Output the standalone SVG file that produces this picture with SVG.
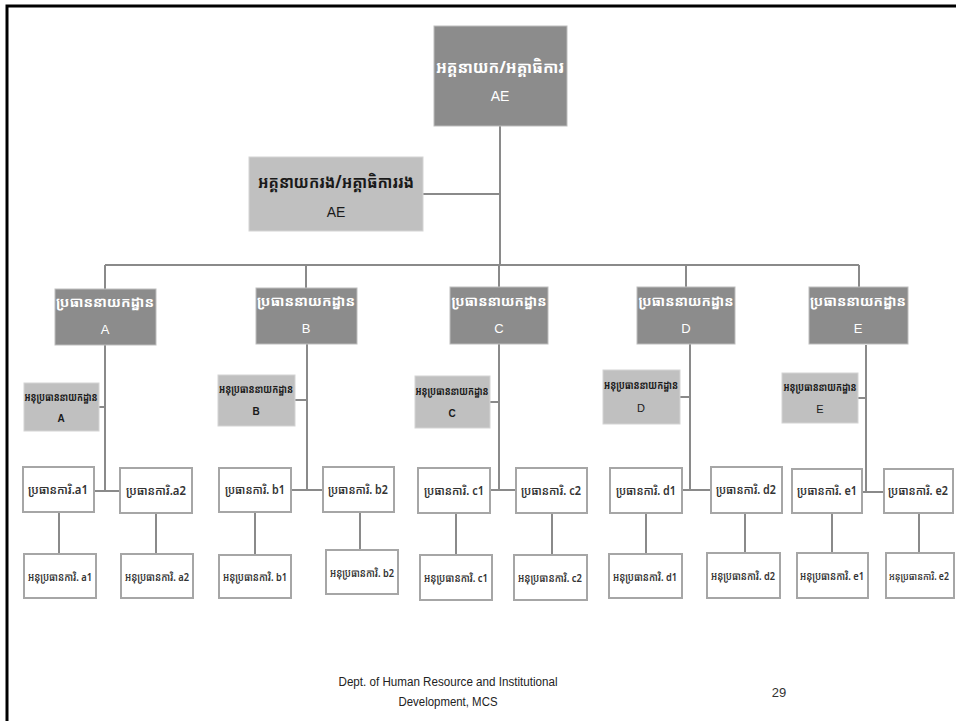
<svg xmlns="http://www.w3.org/2000/svg" width="956" height="721" viewBox="0 0 956 721">
<style>
.k{font-family:"Noto Sans Khmer","Khmer OS","Noto Sans",sans-serif;text-anchor:middle}
.l{font-family:"Liberation Sans Narrow","Liberation Sans",sans-serif;text-anchor:middle}
.top{fill:#8c8c8c;stroke:#bdbdbd;stroke-width:1}
.dep{fill:#c0c0c0;stroke:#d4d4d4;stroke-width:1}
.off{fill:#ffffff;stroke:#a6a6a6;stroke-width:2}
.wt{fill:#ffffff}
.wb{fill:#ffffff;font-weight:bold}
.bt{fill:#1a1a1a;font-weight:bold}
.ot{fill:#333333;font-weight:600}
#connectors line{stroke:#8a8a8a;stroke-width:2}
</style>
<rect width="956" height="721" fill="#ffffff"/>
<path d="M7 721 V6 H956" fill="none" stroke="#000000" stroke-width="3"/>

<g id="connectors">
<line x1="500" y1="126" x2="500" y2="265"/>
<line x1="423" y1="194" x2="500" y2="194"/>
<line x1="105" y1="265" x2="859" y2="265"/>
<line x1="105" y1="265" x2="105" y2="289"/>
<line x1="306" y1="265" x2="306" y2="288"/>
<line x1="499" y1="265" x2="499" y2="287"/>
<line x1="686" y1="265" x2="686" y2="287"/>
<line x1="859" y1="265" x2="859" y2="289"/>
<line x1="105" y1="345" x2="105" y2="491"/>
<line x1="99" y1="407" x2="105" y2="407"/>
<line x1="94" y1="491" x2="120" y2="491"/>
<line x1="59" y1="512" x2="59" y2="554"/>
<line x1="156" y1="513" x2="156" y2="554"/>
<line x1="307" y1="344" x2="307" y2="490"/>
<line x1="295" y1="400" x2="307" y2="400"/>
<line x1="291" y1="490" x2="323" y2="490"/>
<line x1="255" y1="512" x2="255" y2="555"/>
<line x1="360" y1="512" x2="360" y2="550"/>
<line x1="499" y1="344" x2="499" y2="490"/>
<line x1="490" y1="402" x2="499" y2="402"/>
<line x1="490" y1="490" x2="516" y2="490"/>
<line x1="456" y1="513" x2="456" y2="555"/>
<line x1="552" y1="513" x2="552" y2="555"/>
<line x1="690" y1="344" x2="690" y2="490"/>
<line x1="680" y1="397" x2="690" y2="397"/>
<line x1="682" y1="490" x2="711" y2="490"/>
<line x1="646" y1="513" x2="646" y2="554"/>
<line x1="745" y1="513" x2="745" y2="553"/>
<line x1="866" y1="345" x2="866" y2="492"/>
<line x1="858" y1="398" x2="866" y2="398"/>
<line x1="862" y1="492" x2="884" y2="492"/>
<line x1="832" y1="513" x2="832" y2="553"/>
<line x1="919" y1="513" x2="919" y2="553"/>
</g>

<g id="n-top">
<rect class="top" x="434" y="26" width="133" height="100"/>
<text class="k wb" x="500" y="73" font-size="16" textLength="128" lengthAdjust="spacingAndGlyphs">អគ្គនាយក/អគ្គាធិការ</text>
<text class="l wt" x="500" y="101" font-size="14">AE</text>
</g>
<g id="n-deputy">
<rect class="dep" x="249" y="157" width="174" height="74"/>
<text class="k bt" x="336" y="188" font-size="17" textLength="156" lengthAdjust="spacingAndGlyphs">អគ្គនាយករង/អគ្គាធិការរង</text>
<text class="l" x="336" y="217" font-size="14" fill="#1a1a1a">AE</text>
</g>

<g id="n-dA"><rect class="top" x="55" y="289" width="101" height="56"/>
<text class="k wb" x="105" y="307" font-size="14" textLength="98" lengthAdjust="spacingAndGlyphs">ប្រធាននាយកដ្ឋាន</text>
<text class="l wt" x="105" y="334" font-size="13">A</text></g>
<g id="n-dB"><rect class="top" x="256" y="288" width="101" height="56"/>
<text class="k wb" x="306" y="306" font-size="14" textLength="98" lengthAdjust="spacingAndGlyphs">ប្រធាននាយកដ្ឋាន</text>
<text class="l wt" x="306" y="333" font-size="13">B</text></g>
<g id="n-dC"><rect class="top" x="450" y="287" width="98" height="57"/>
<text class="k wb" x="499" y="306" font-size="14" textLength="95" lengthAdjust="spacingAndGlyphs">ប្រធាននាយកដ្ឋាន</text>
<text class="l wt" x="499" y="333" font-size="13">C</text></g>
<g id="n-dD"><rect class="top" x="637" y="287" width="98" height="57"/>
<text class="k wb" x="686" y="306" font-size="14" textLength="95" lengthAdjust="spacingAndGlyphs">ប្រធាននាយកដ្ឋាន</text>
<text class="l wt" x="686" y="333" font-size="13">D</text></g>
<g id="n-dE"><rect class="top" x="809" y="287" width="99" height="57"/>
<text class="k wb" x="858" y="306" font-size="14" textLength="96" lengthAdjust="spacingAndGlyphs">ប្រធាននាយកដ្ឋាន</text>
<text class="l wt" x="858" y="333" font-size="13">E</text></g>

<g id="n-vA"><rect class="dep" x="24" y="383" width="75" height="48"/>
<text class="k bt" x="61" y="401" font-size="11" textLength="73" lengthAdjust="spacingAndGlyphs">អនុប្រធាននាយកដ្ឋាន</text>
<text class="l bt" x="61" y="422" font-size="10">A</text></g>
<g id="n-vB"><rect class="dep" x="218" y="375" width="77" height="51"/>
<text class="k bt" x="256" y="393" font-size="11" textLength="74" lengthAdjust="spacingAndGlyphs">អនុប្រធាននាយកដ្ឋាន</text>
<text class="l bt" x="256" y="415" font-size="10">B</text></g>
<g id="n-vC"><rect class="dep" x="415" y="376" width="75" height="52"/>
<text class="k bt" x="452" y="395" font-size="11" textLength="73" lengthAdjust="spacingAndGlyphs">អនុប្រធាននាយកដ្ឋាន</text>
<text class="l bt" x="452" y="417" font-size="10">C</text></g>
<g id="n-vD"><rect class="dep" x="603" y="370" width="77" height="54"/>
<text class="k bt" x="641" y="389" font-size="11" textLength="74" lengthAdjust="spacingAndGlyphs">អនុប្រធាននាយកដ្ឋាន</text>
<text class="l" x="641" y="412" font-size="11" fill="#1a1a1a">D</text></g>
<g id="n-vE"><rect class="dep" x="782" y="373" width="76" height="50"/>
<text class="k bt" x="820" y="391" font-size="11" textLength="73" lengthAdjust="spacingAndGlyphs">អនុប្រធាននាយកដ្ឋាន</text>
<text class="l" x="820" y="413" font-size="11" fill="#1a1a1a">E</text></g>

<g id="n-a1"><rect class="off" x="23" y="467" width="71" height="45"/><text class="k ot" x="58" y="494" font-size="12" textLength="60" lengthAdjust="spacingAndGlyphs">ប្រធានការិ.a1</text></g>
<g id="n-a2"><rect class="off" x="120" y="468" width="72" height="45"/><text class="k ot" x="156" y="495" font-size="12" textLength="60" lengthAdjust="spacingAndGlyphs">ប្រធានការិ.a2</text></g>
<g id="n-sa1"><rect class="off" x="24" y="554" width="72" height="44"/><text class="k ot" x="60" y="581" font-size="11" textLength="64" lengthAdjust="spacingAndGlyphs">អនុប្រធានការិ. a1</text></g>
<g id="n-sa2"><rect class="off" x="121" y="554" width="72" height="44"/><text class="k ot" x="157" y="581" font-size="11" textLength="64" lengthAdjust="spacingAndGlyphs">អនុប្រធានការិ. a2</text></g>

<g id="n-b1"><rect class="off" x="219" y="468" width="72" height="44"/><text class="k ot" x="255" y="494" font-size="12" textLength="60" lengthAdjust="spacingAndGlyphs">ប្រធានការិ. b1</text></g>
<g id="n-b2"><rect class="off" x="323" y="467" width="71" height="45"/><text class="k ot" x="358" y="494" font-size="12" textLength="60" lengthAdjust="spacingAndGlyphs">ប្រធានការិ. b2</text></g>
<g id="n-sb1"><rect class="off" x="219" y="555" width="72" height="43"/><text class="k ot" x="255" y="581" font-size="11" textLength="64" lengthAdjust="spacingAndGlyphs">អនុប្រធានការិ. b1</text></g>
<g id="n-sb2"><rect class="off" x="326" y="550" width="72" height="44"/><text class="k ot" x="362" y="577" font-size="11" textLength="64" lengthAdjust="spacingAndGlyphs">អនុប្រធានការិ. b2</text></g>

<g id="n-c1"><rect class="off" x="418" y="468" width="72" height="45"/><text class="k ot" x="454" y="495" font-size="12" textLength="60" lengthAdjust="spacingAndGlyphs">ប្រធានការិ. c1</text></g>
<g id="n-c2"><rect class="off" x="516" y="468" width="71" height="45"/><text class="k ot" x="551" y="495" font-size="12" textLength="60" lengthAdjust="spacingAndGlyphs">ប្រធានការិ. c2</text></g>
<g id="n-sc1"><rect class="off" x="420" y="555" width="72" height="45"/><text class="k ot" x="456" y="582" font-size="11" textLength="64" lengthAdjust="spacingAndGlyphs">អនុប្រធានការិ. c1</text></g>
<g id="n-sc2"><rect class="off" x="514" y="555" width="73" height="45"/><text class="k ot" x="550" y="582" font-size="11" textLength="64" lengthAdjust="spacingAndGlyphs">អនុប្រធានការិ. c2</text></g>

<g id="n-d1"><rect class="off" x="610" y="468" width="72" height="45"/><text class="k ot" x="646" y="495" font-size="12" textLength="60" lengthAdjust="spacingAndGlyphs">ប្រធានការិ. d1</text></g>
<g id="n-d2"><rect class="off" x="711" y="467" width="71" height="46"/><text class="k ot" x="746" y="494" font-size="12" textLength="60" lengthAdjust="spacingAndGlyphs">ប្រធានការិ. d2</text></g>
<g id="n-sd1"><rect class="off" x="609" y="554" width="73" height="44"/><text class="k ot" x="645" y="581" font-size="11" textLength="64" lengthAdjust="spacingAndGlyphs">អនុប្រធានការិ. d1</text></g>
<g id="n-sd2"><rect class="off" x="707" y="553" width="73" height="45"/><text class="k ot" x="743" y="580" font-size="11" textLength="64" lengthAdjust="spacingAndGlyphs">អនុប្រធានការិ. d2</text></g>

<g id="n-e1"><rect class="off" x="792" y="469" width="70" height="44"/><text class="k ot" x="827" y="495" font-size="12" textLength="60" lengthAdjust="spacingAndGlyphs">ប្រធានការិ. e1</text></g>
<g id="n-e2"><rect class="off" x="884" y="469" width="69" height="44"/><text class="k ot" x="918" y="495" font-size="12" textLength="60" lengthAdjust="spacingAndGlyphs">ប្រធានការិ. e2</text></g>
<g id="n-se1"><rect class="off" x="797" y="553" width="71" height="45"/><text class="k ot" x="832" y="580" font-size="11" textLength="64" lengthAdjust="spacingAndGlyphs">អនុប្រធានការិ. e1</text></g>
<g id="n-se2"><rect class="off" x="886" y="553" width="68" height="45"/><text class="k ot" x="919" y="580" font-size="10" textLength="60" lengthAdjust="spacingAndGlyphs">អនុប្រធានការិ. e2</text></g>

<g id="footer">
<text class="l" x="448" y="686" font-size="12.5" fill="#222222" textLength="219" lengthAdjust="spacingAndGlyphs">Dept. of Human Resource and Institutional</text>
<text class="l" x="448" y="706" font-size="12.5" fill="#222222" textLength="99" lengthAdjust="spacingAndGlyphs">Development, MCS</text>
<text class="l" x="779" y="697" font-size="13" fill="#333333">29</text>
</g>
</svg>
